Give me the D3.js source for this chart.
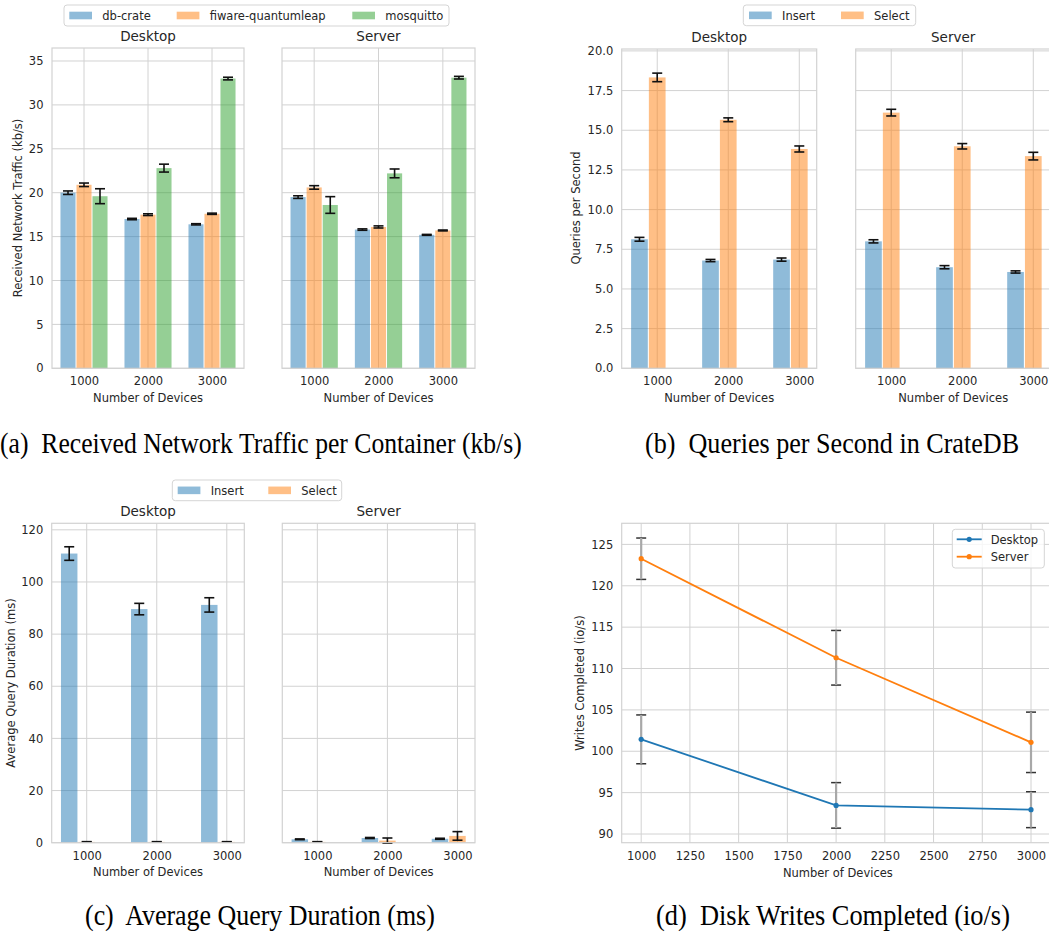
<!DOCTYPE html>
<html>
<head>
<meta charset="utf-8">
<script src="https://cdn.jsdelivr.net/npm/d3@7"></script>
<style>
  body { margin: 0; background: #fff; }
  svg text { font-family: "DejaVu Sans", sans-serif; fill: #262626; }
  svg text.cap { font-family: "Liberation Serif", serif; fill: #000; white-space: pre; }
</style>
</head>
<body>
<svg id="fig" width="1049" height="936"></svg>
<script>
const devices = [1000, 2000, 3000];
const panelNames = ["Desktop", "Server"];

// (a) received network traffic, one row per container
const trafficSeries = ["db-crate", "fiware-quantumleap", "mosquitto"];
const trafficDesktop = [[20.0, 17.0, 16.4], [20.9, 17.5, 17.6], [19.6, 22.8, 33.0]];
const trafficDesktopErr = [[0.2, 0.08, 0.07], [0.2, 0.1, 0.07], [0.85, 0.45, 0.15]];
const trafficServer = [[19.5, 15.8, 15.2], [20.6, 16.1, 15.7], [18.6, 22.2, 33.1]];
const trafficServerErr = [[0.15, 0.08, 0.05], [0.2, 0.12, 0.05], [0.95, 0.5, 0.15]];

// (b) queries per second
const querySeries = ["Insert", "Select"];
const qpsDesktop = [[8.13, 6.79, 6.85], [18.33, 15.66, 13.82]];
const qpsDesktopErr = [[0.12, 0.07, 0.1], [0.27, 0.12, 0.19]];
const qpsServer = [[8.0, 6.37, 6.07], [16.11, 13.99, 13.37]];
const qpsServerErr = [[0.1, 0.1, 0.07], [0.21, 0.17, 0.24]];

// (c) average query duration
const durDesktop = [[110.9, 89.6, 91.2], [0.3, 0.3, 0.3]];
const durDesktopErr = [[2.6, 2.2, 2.75], [0.1, 0.1, 0.1]];
const durServer = [[1.3, 1.8, 1.5], [0.3, 0.8, 2.6]];
const durServerErr = [[0.15, 0.2, 0.2], [0.1, 1.0, 1.65]];

// (d) disk writes completed
const diskSeries = ["Desktop", "Server"];
const diskMean = [[101.44, 93.46, 92.94], [123.27, 111.3, 101.08]];
const diskErr = [[2.95, 2.75, 2.17], [2.5, 3.3, 3.65]];
const diskXTicks = [1000, 1250, 1500, 1750, 2000, 2250, 2500, 2750, 3000];
const diskYTicks = [90, 95, 100, 105, 110, 115, 120, 125];

const captions = [
  "(a)  Received Network Traffic per Container (kb/s)",
  "(b)  Queries per Second in CrateDB",
  "(c)  Average Query Duration (ms)",
  "(d)  Disk Writes Completed (io/s)"
];

const palette = ["#1f77b4", "#ff7f0e", "#2ca02c"];
const GRID = "#d2d2d2";
const FS = 11.5;
const svg = d3.select("#fig");

function frame(g, left, right, top, bottom) {
  g.append("rect")
    .attr("x", left).attr("y", top)
    .attr("width", right - left).attr("height", bottom - top)
    .attr("fill", "none").attr("stroke", GRID).attr("stroke-width", 1.2);
}

function grid(g, x, y, xTicks, yTicks) {
  const [l, r] = x.range();
  const [b, t] = y.range();
  g.selectAll(null).data(yTicks).enter().append("line")
    .attr("x1", l).attr("x2", r)
    .attr("y1", d => y(d)).attr("y2", d => y(d))
    .attr("stroke", GRID).attr("stroke-width", 1);
  g.selectAll(null).data(xTicks).enter().append("line")
    .attr("y1", b).attr("y2", t)
    .attr("x1", d => x(d)).attr("x2", d => x(d))
    .attr("stroke", GRID).attr("stroke-width", 1);
}

function tickLabels(g, x, y, xTicks, xFmt, yTicks, yFmt, showY) {
  const xa = g.append("g")
    .attr("transform", `translate(0,${y.range()[0]})`)
    .call(d3.axisBottom(x).tickValues(xTicks).tickFormat(xFmt).tickSize(0).tickPadding(8.8));
  xa.select(".domain").remove();
  xa.selectAll("text").attr("font-size", FS).style("font-family", "DejaVu Sans");
  if (showY) {
    const ya = g.append("g")
      .attr("transform", `translate(${x.range()[0]},0)`)
      .call(d3.axisLeft(y).tickValues(yTicks).tickFormat(yFmt).tickSize(0).tickPadding(8.5));
    ya.select(".domain").remove();
    ya.selectAll("text").attr("font-size", FS).style("font-family", "DejaVu Sans");
  }
}

function errBar(g, cx, yLo, yHi, color, width) {
  g.append("line").attr("x1", cx).attr("x2", cx).attr("y1", yLo).attr("y2", yHi)
    .attr("stroke", color).attr("stroke-width", width);
  [yLo, yHi].forEach(yy => g.append("line")
    .attr("x1", cx - 5).attr("x2", cx + 5).attr("y1", yy).attr("y2", yy)
    .attr("stroke", color).attr("stroke-width", width));
}

// one facet of a grouped bar chart
function barFacet(o) {
  const g = svg.append("g");
  const x = d3.scaleLinear().domain(o.xDomain).range([o.left, o.right]);
  const y = d3.scaleLinear().domain(o.yDomain).range([o.bottom, o.top]);
  grid(g, x, y, [0, 1, 2], o.yTicks);
  const offsets = [-0.25, 0, 0.25];
  const bw = 0.235;
  o.means.forEach((row, s) => {
    g.selectAll(null).data(row).enter().append("rect")
      .attr("x", (d, i) => x(i + offsets[s] - bw / 2))
      .attr("width", x(bw) - x(0))
      .attr("y", d => y(d))
      .attr("height", d => y(0) - y(d))
      .attr("fill", palette[s]).attr("fill-opacity", 0.5);
  });
  o.means.forEach((row, s) => {
    row.forEach((d, i) => {
      const e = o.errs[s][i];
      errBar(g, x(i + offsets[s]), y(d - e), y(d + e), "#111", 1.6);
    });
  });
  frame(g, o.left, o.right, o.top, o.bottom);
  tickLabels(g, x, y, [0, 1, 2], i => devices[i], o.yTicks, o.yFmt, o.showY);
  g.append("text").attr("x", (o.left + o.right) / 2).attr("y", o.top - 7.5)
    .attr("text-anchor", "middle").attr("font-size", 13.5).text(o.title);
  g.append("text").attr("x", (o.left + o.right) / 2).attr("y", o.bottom + 33.7)
    .attr("text-anchor", "middle").attr("font-size", FS).text("Number of Devices");
}

function yLabel(cx, cy, label) {
  svg.append("text")
    .attr("transform", `translate(${cx},${cy}) rotate(-90)`)
    .attr("text-anchor", "middle").attr("dy", "0.35em")
    .attr("font-size", FS).text(label);
}

function patchLegend(box, items) {
  const g = svg.append("g");
  g.append("rect").attr("x", box.x0).attr("y", box.y0)
    .attr("width", box.x1 - box.x0).attr("height", box.y1 - box.y0)
    .attr("rx", 3).attr("fill", "#fff").attr("fill-opacity", 0.8)
    .attr("stroke", "#d5d5d5");
  const cy = (box.y0 + box.y1) / 2;
  items.forEach((name, i) => {
    g.append("rect").attr("x", box.px[i]).attr("y", cy - 3.8)
      .attr("width", 22.7).attr("height", 7.6)
      .attr("fill", palette[i]).attr("fill-opacity", 0.5);
    g.append("text").attr("x", box.px[i] + 33).attr("y", cy + 4.2)
      .attr("font-size", FS).text(name);
  });
}

// ---------- (a) ----------
const aTicks = [0, 5, 10, 15, 20, 25, 30, 35];
[[52, 244, trafficDesktop, trafficDesktopErr], [282, 475, trafficServer, trafficServerErr]]
  .forEach(([l, r, m, e], k) => barFacet({
    left: l, right: r, top: 48, bottom: 368.3,
    xDomain: [-0.5, 2.5], yDomain: [0, 36.48], yTicks: aTicks, yFmt: d3.format("d"),
    means: m, errs: e, title: panelNames[k], showY: k === 0
  }));
yLabel(17.5, 208, "Received Network Traffic (kb/s)");
patchLegend({ x0: 64, x1: 449, y0: 5, y1: 26, px: [69.3, 176.7, 352.3] }, trafficSeries);

// ---------- (b) ----------
const bTicks = [0, 2.5, 5, 7.5, 10, 12.5, 15, 17.5, 20];
[[621.7, 816.7, qpsDesktop, qpsDesktopErr], [855.7, 1050.7, qpsServer, qpsServerErr]]
  .forEach(([l, r, m, e], k) => barFacet({
    left: l, right: r, top: 49, bottom: 368.3,
    xDomain: [-0.5, 2.245], yDomain: [0, 20.12], yTicks: bTicks, yFmt: d3.format(".1f"),
    means: m, errs: e, title: panelNames[k], showY: k === 0
  }));
yLabel(576, 208, "Queries per Second");
patchLegend({ x0: 743.3, x1: 915.7, y0: 5, y1: 25.7, px: [749, 841] }, querySeries);

// ---------- (c) ----------
const cTicks = [0, 20, 40, 60, 80, 100, 120];
[[51.7, 244.3, durDesktop, durDesktopErr], [282.3, 475, durServer, durServerErr]]
  .forEach(([l, r, m, e], k) => barFacet({
    left: l, right: r, top: 523.3, bottom: 842.7,
    xDomain: [-0.5, 2.25], yDomain: [0, 122.5], yTicks: cTicks, yFmt: d3.format("d"),
    means: m, errs: e, title: panelNames[k], showY: k === 0
  }));
yLabel(10.5, 683, "Average Query Duration (ms)");
patchLegend({ x0: 172.3, x1: 341.7, y0: 480, y1: 500.7, px: [177.7, 268.3] }, querySeries);

// ---------- (d) ----------
{
  const g = svg.append("g");
  const left = 621.7, right = 1050.5, top = 523.3, bottom = 842.7;
  const x = d3.scaleLinear().domain([900, 3100]).range([left, right]);
  const y = d3.scaleLinear().domain([88.95, 127.55]).range([bottom, top]);
  grid(g, x, y, diskXTicks, diskYTicks);
  frame(g, left, right, top, bottom);
  diskMean.forEach((row, s) => {
    row.forEach((d, i) => {
      const e = diskErr[s][i];
      const cx = x(devices[i]);
      [d - e, d + e].forEach(v => g.append("line")
        .attr("x1", cx - 5).attr("x2", cx + 5).attr("y1", y(v)).attr("y2", y(v))
        .attr("stroke", "#333").attr("stroke-width", 1.5));
      g.append("line").attr("x1", cx).attr("x2", cx)
        .attr("y1", y(d - e)).attr("y2", y(d + e))
        .attr("stroke", "#a8a8a8").attr("stroke-width", 2.2);
    });
  });
  const line = d3.line().x((d, i) => x(devices[i])).y(d => y(d));
  diskMean.forEach((row, s) => {
    g.append("path").datum(row).attr("d", line)
      .attr("fill", "none").attr("stroke", palette[s]).attr("stroke-width", 1.8);
    g.selectAll(null).data(row).enter().append("circle")
      .attr("cx", (d, i) => x(devices[i])).attr("cy", d => y(d)).attr("r", 2.6)
      .attr("fill", palette[s]);
  });
  tickLabels(g, x, y, diskXTicks, d3.format("d"), diskYTicks, d3.format("d"), true);
  g.append("text").attr("x", (left + 1044) / 2 + 5).attr("y", bottom + 34)
    .attr("text-anchor", "middle").attr("font-size", FS).text("Number of Devices");
  yLabel(579.5, 683, "Writes Completed (io/s)");

  const lg = svg.append("g");
  lg.append("rect").attr("x", 952.3).attr("y", 529.3).attr("width", 92).attr("height", 38.7)
    .attr("rx", 3).attr("fill", "#fff").attr("fill-opacity", 0.8).attr("stroke", "#d5d5d5");
  diskSeries.forEach((name, i) => {
    const ly = 539.3 + i * 17.4;
    lg.append("line").attr("x1", 956.7).attr("x2", 981.7).attr("y1", ly).attr("y2", ly)
      .attr("stroke", palette[i]).attr("stroke-width", 1.8);
    lg.append("circle").attr("cx", 969.2).attr("cy", ly).attr("r", 2.6).attr("fill", palette[i]);
    lg.append("text").attr("x", 990.7).attr("y", ly + 4.2).attr("font-size", FS).text(name);
  });
}

// ---------- captions (horizontally condensed serif, like the scaled figure) ----------
const capPos = [[0, 522, 452.7], [645, 1019.3, 452.7], [85, 435, 925], [656, 1010, 925]];
captions.forEach((c, i) => {
  const [x0, x1, by] = capPos[i];
  const t = svg.append("text").attr("class", "cap")
    .attr("x", 0).attr("y", 0).attr("font-size", 30)
    .text(c);
  const sx = (x1 - x0) / t.node().getComputedTextLength();
  t.attr("transform", `translate(${x0},${by}) scale(${sx},1)`);
});
</script>
</body>
</html>
